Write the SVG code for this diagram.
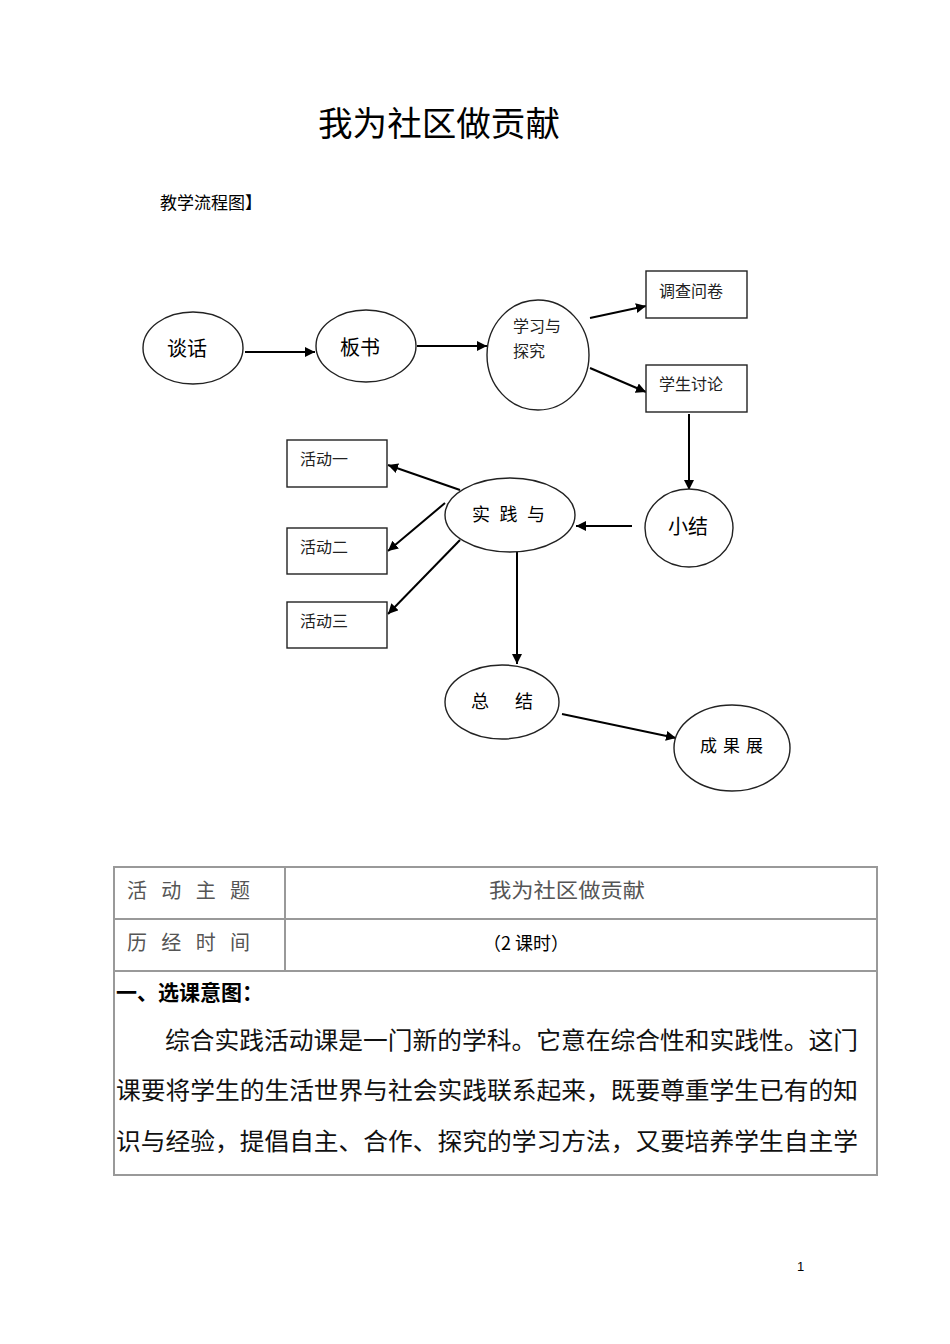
<svg xmlns="http://www.w3.org/2000/svg" width="950" height="1344" viewBox="0 0 950 1344">
<defs>
<marker id="ah" viewBox="0 0 10 10" refX="10" refY="5" markerWidth="10" markerHeight="10" markerUnits="userSpaceOnUse" orient="auto">
<path d="M0,0 L10,5 L0,10 z" fill="#000"/>
</marker>
<style>
text{font-family:"Noto Sans CJK SC","Liberation Sans",sans-serif;fill:#000}
.node ellipse{fill:#fff;stroke:#222;stroke-width:1.4}
.node rect{fill:#fff;stroke:#222;stroke-width:1.4}
.el{font-size:20px}
.bx{font-size:16px;fill:#222}
#connectors line{stroke:#000;stroke-width:2;marker-end:url(#ah)}
.tb{stroke:#999;stroke-width:2;fill:none}
.cell{font-size:20px;fill:#555}
.para{font-size:24px;fill:#111}
.pg{font-family:"Liberation Sans",sans-serif;font-size:13px}
</style>
</defs>
<rect width="950" height="1344" fill="#fff"/>
<text x="318" y="136" font-size="34" textLength="242" lengthAdjust="spacingAndGlyphs">我为社区做贡献</text>
<text x="160" y="209" font-size="17" fill="#222">教学流程图】</text>

<g id="connectors">
<line x1="245" y1="352" x2="315" y2="352"/>
<line x1="417" y1="346" x2="487" y2="346"/>
<line x1="590" y1="318" x2="646" y2="306"/>
<line x1="590" y1="368" x2="646" y2="392"/>
<line x1="689" y1="414" x2="689" y2="490"/>
<line x1="632" y1="526" x2="576" y2="526"/>
<line x1="460" y1="490" x2="388" y2="465"/>
<line x1="445" y1="503" x2="388" y2="551"/>
<line x1="460" y1="540" x2="388" y2="614"/>
<line x1="517" y1="552" x2="517" y2="664"/>
<line x1="562" y1="714" x2="676" y2="738"/>
</g>

<g id="n-tanhua" class="node"><ellipse cx="193" cy="348" rx="50" ry="36"/><text class="el" x="167" y="356">谈话</text></g>
<g id="n-banshu" class="node"><ellipse cx="366" cy="346" rx="50" ry="36"/><text class="el" x="340" y="355">板书</text></g>
<g id="n-xuexi" class="node"><ellipse cx="538" cy="355" rx="51" ry="55"/><text class="bx" x="513" y="332">学习与</text><text class="bx" x="513" y="357">探究</text></g>
<g id="n-diaocha" class="node"><rect x="646" y="271" width="101" height="47"/><text class="bx" x="659" y="297">调查问卷</text></g>
<g id="n-taolun" class="node"><rect x="646" y="365" width="101" height="47"/><text class="bx" x="659" y="390">学生讨论</text></g>
<g id="n-xiaojie" class="node"><ellipse cx="689" cy="528" rx="44" ry="39"/><text class="el" x="668" y="534">小结</text></g>
<g id="n-shijian" class="node"><ellipse cx="510" cy="515" rx="65" ry="37"/><text x="472" y="521" font-size="18" textLength="73" lengthAdjust="spacing">实 践 与</text></g>
<g id="n-huodong1" class="node"><rect x="287" y="440" width="100" height="47"/><text class="bx" x="300" y="465">活动一</text></g>
<g id="n-huodong2" class="node"><rect x="287" y="528" width="100" height="46"/><text class="bx" x="300" y="553">活动二</text></g>
<g id="n-huodong3" class="node"><rect x="287" y="602" width="100" height="46"/><text class="bx" x="300" y="627">活动三</text></g>
<g id="n-zongjie" class="node"><ellipse cx="502" cy="702" rx="57" ry="37"/><text x="471" y="708" font-size="18" textLength="62" lengthAdjust="spacing">总  结</text></g>
<g id="n-chengguo" class="node"><ellipse cx="732" cy="748" rx="58" ry="43"/><text x="700" y="752" font-size="17" textLength="63" lengthAdjust="spacing">成 果 展</text></g>

<g id="table">
<rect class="tb" x="114" y="867" width="763" height="308"/>
<line class="tb" x1="114" y1="919" x2="877" y2="919"/>
<line class="tb" x1="114" y1="971" x2="877" y2="971"/>
<line class="tb" x1="285" y1="867" x2="285" y2="971"/>
<text class="cell" x="127" y="898" textLength="123" lengthAdjust="spacing">活 动 主 题</text>
<text class="cell" x="489" y="898" textLength="156" lengthAdjust="spacingAndGlyphs">我为社区做贡献</text>
<text class="cell" x="127" y="950" textLength="123" lengthAdjust="spacing">历 经 时 间</text>
<text x="483" y="950" font-size="18" fill="#444">（2 课时）</text>
<text x="116" y="1000" font-size="21" font-weight="bold">一、选课意图：</text>
<text class="para" x="165" y="1049" textLength="693" lengthAdjust="spacingAndGlyphs">综合实践活动课是一门新的学科。它意在综合性和实践性。这门</text>
<text class="para" x="116" y="1099" textLength="742" lengthAdjust="spacingAndGlyphs">课要将学生的生活世界与社会实践联系起来，既要尊重学生已有的知</text>
<text class="para" x="116" y="1150" textLength="742" lengthAdjust="spacingAndGlyphs">识与经验，提倡自主、合作、探究的学习方法，又要培养学生自主学</text>
</g>
<text class="pg" x="797" y="1271">1</text>
</svg>
